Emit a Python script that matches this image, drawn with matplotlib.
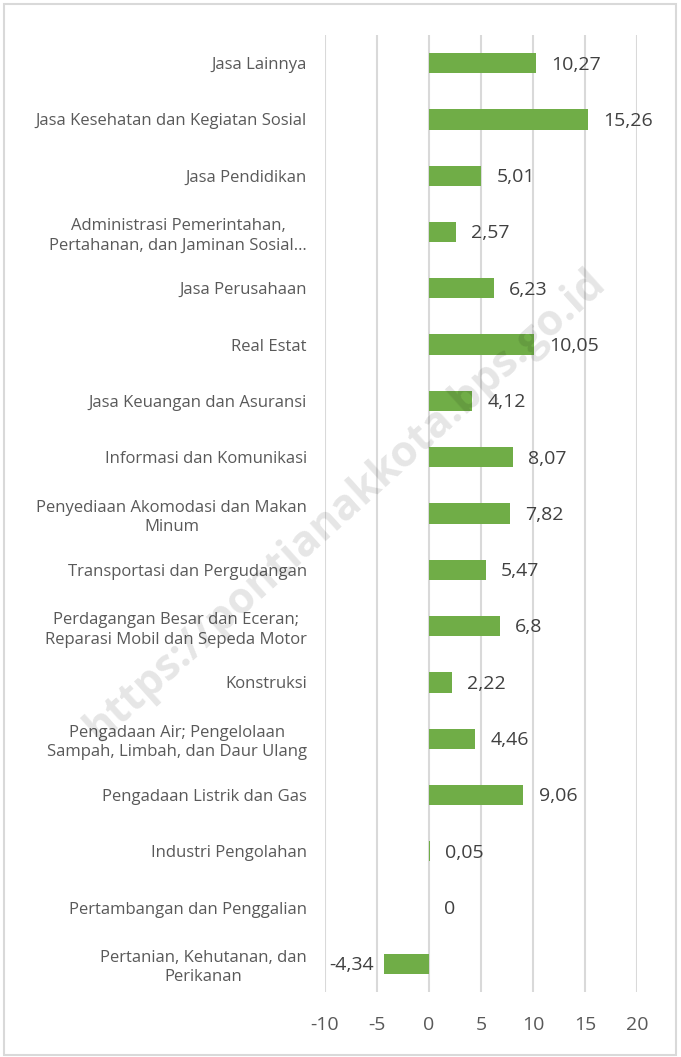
import matplotlib.pyplot as plt
from matplotlib.patches import Rectangle

categories = [
    "Jasa Lainnya",
    "Jasa Kesehatan dan Kegiatan Sosial",
    "Jasa Pendidikan",
    "Administrasi Pemerintahan,\nPertahanan, dan Jaminan Sosial…",
    "Jasa Perusahaan",
    "Real Estat",
    "Jasa Keuangan dan Asuransi",
    "Informasi dan Komunikasi",
    "Penyediaan Akomodasi dan Makan\nMinum",
    "Transportasi dan Pergudangan",
    "Perdagangan Besar dan Eceran;\nReparasi Mobil dan Sepeda Motor",
    "Konstruksi",
    "Pengadaan Air; Pengelolaan\nSampah, Limbah, dan Daur Ulang",
    "Pengadaan Listrik dan Gas",
    "Industri Pengolahan",
    "Pertambangan dan Penggalian",
    "Pertanian, Kehutanan, dan\nPerikanan",
]
values = [10.27, 15.26, 5.01, 2.57, 6.23, 10.05, 4.12, 8.07, 7.82, 5.47,
          6.8, 2.22, 4.46, 9.06, 0.05, 0, -4.34]
value_labels = ["10,27", "15,26", "5,01", "2,57", "6,23", "10,05", "4,12", "8,07",
                "7,82", "5,47", "6,8", "2,22", "4,46", "9,06", "0,05", "0", "-4,34"]
xticks = [-10, -5, 0, 5, 10, 15, 20]

plt.rcParams['font.family'] = ['Open Sans', 'DejaVu Sans']

fig = plt.figure(figsize=(6.81, 10.57), dpi=100)
ax = fig.add_axes([325 / 681, 1 - 992 / 1057, (637 - 325) / 681, (992 - 35) / 1057])

ypos = list(range(len(categories)))
ax.barh(ypos, values, height=0.36, color='#70AD47', zorder=3)
ax.set_xlim(-10, 20)
ax.set_ylim(len(categories) - 0.5, -0.5)
ax.set_xticks(xticks)
ax.set_xticklabels([str(t) for t in xticks], fontsize=14, color='#595959')
ax.set_yticks(ypos)
ax.set_yticklabels(categories, fontsize=12, color='#595959',
                   multialignment='center', linespacing=1.3)
ax.tick_params(axis='both', length=0)
ax.tick_params(axis='y', pad=13)
ax.tick_params(axis='x', pad=17)
ax.grid(axis='x', color='#D9D9D9', linewidth=1.5, zorder=0)
for s in ax.spines.values():
    s.set_visible(False)

for y, v, lab in zip(ypos, values, value_labels):
    if v < 0:
        ax.annotate(lab, (v, y), xytext=(-7, -1), textcoords='offset points',
                    ha='right', va='center', fontsize=14, color='#404040', zorder=4)
    else:
        ax.annotate(lab, (v, y), xytext=(11, -1), textcoords='offset points',
                    ha='left', va='center', fontsize=14, color='#404040', zorder=4)

# watermark
fig.text(345 / 681, 1 - 505 / 1057, "https://pontianakkota.bps.go.id", rotation=42,
         ha='center', va='center', fontsize=31, fontweight='bold',
         color='#000000', alpha=0.1, zorder=10)

# outer border
fig.patches.append(Rectangle((4 / 681, 2 / 1057), 672 / 681, 1051 / 1057,
                             transform=fig.transFigure, fill=False,
                             edgecolor='#D9D9D9', linewidth=1.5))

fig.savefig('out.png', dpi=100)
